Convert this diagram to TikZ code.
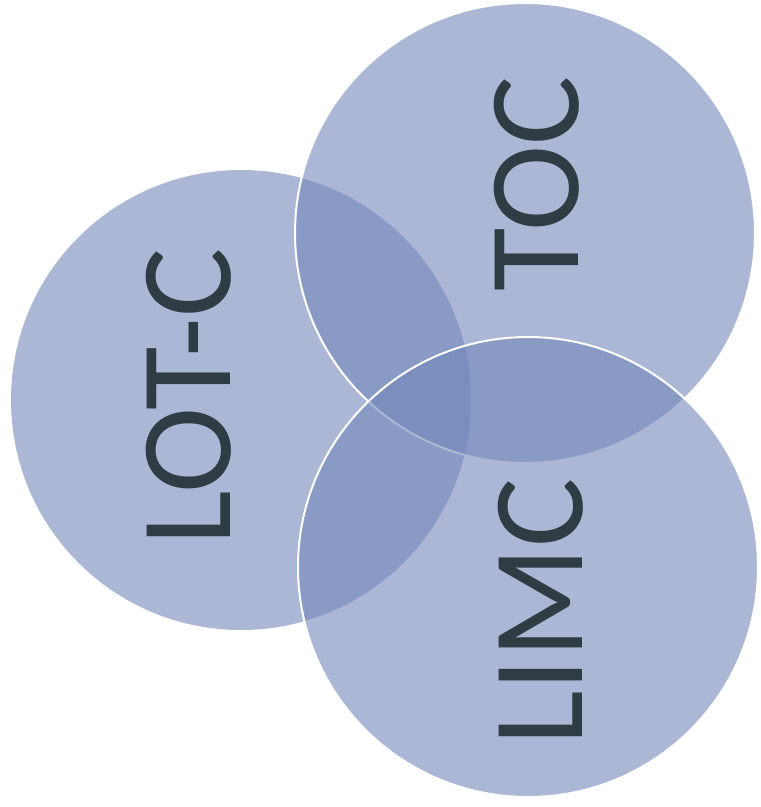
\documentclass[tikz,border=0pt]{standalone}
\usepackage{fontspec}
\setmainfont{Carlito}
\definecolor{circfill}{RGB}{115,135,185}
\definecolor{labelcol}{RGB}{48,60,68}
\begin{document}
\begin{tikzpicture}[x=1pt,y=-1pt,
  circ/.style={fill=circfill,fill opacity=0.6},
  circline/.style={draw=white,line width=2pt},
  lbl/.style={text=labelcol,font=\fontsize{130}{130}\selectfont,rotate=90,inner sep=0pt,anchor=center}]
\useasboundingbox (0,0) rectangle (761,807);
\fill[white] (0,0) rectangle (761,807);
\node[circle,circ,minimum size=460pt,inner sep=0pt] (lotc) at (241,400) {};
\node[circle,circ,circline,minimum size=460pt,inner sep=0pt] (toc) at (525,233) {};
\node[circle,circ,circline,minimum size=460pt,inner sep=0pt] (limc) at (528,567) {};
\node[lbl] (tlotc) at (189,397) {LOT-C};
\node[lbl] (ttoc) at (537,184) {TOC};
\node[lbl] (tlimc) at (541,612) {LIMC};
\end{tikzpicture}
\end{document}
